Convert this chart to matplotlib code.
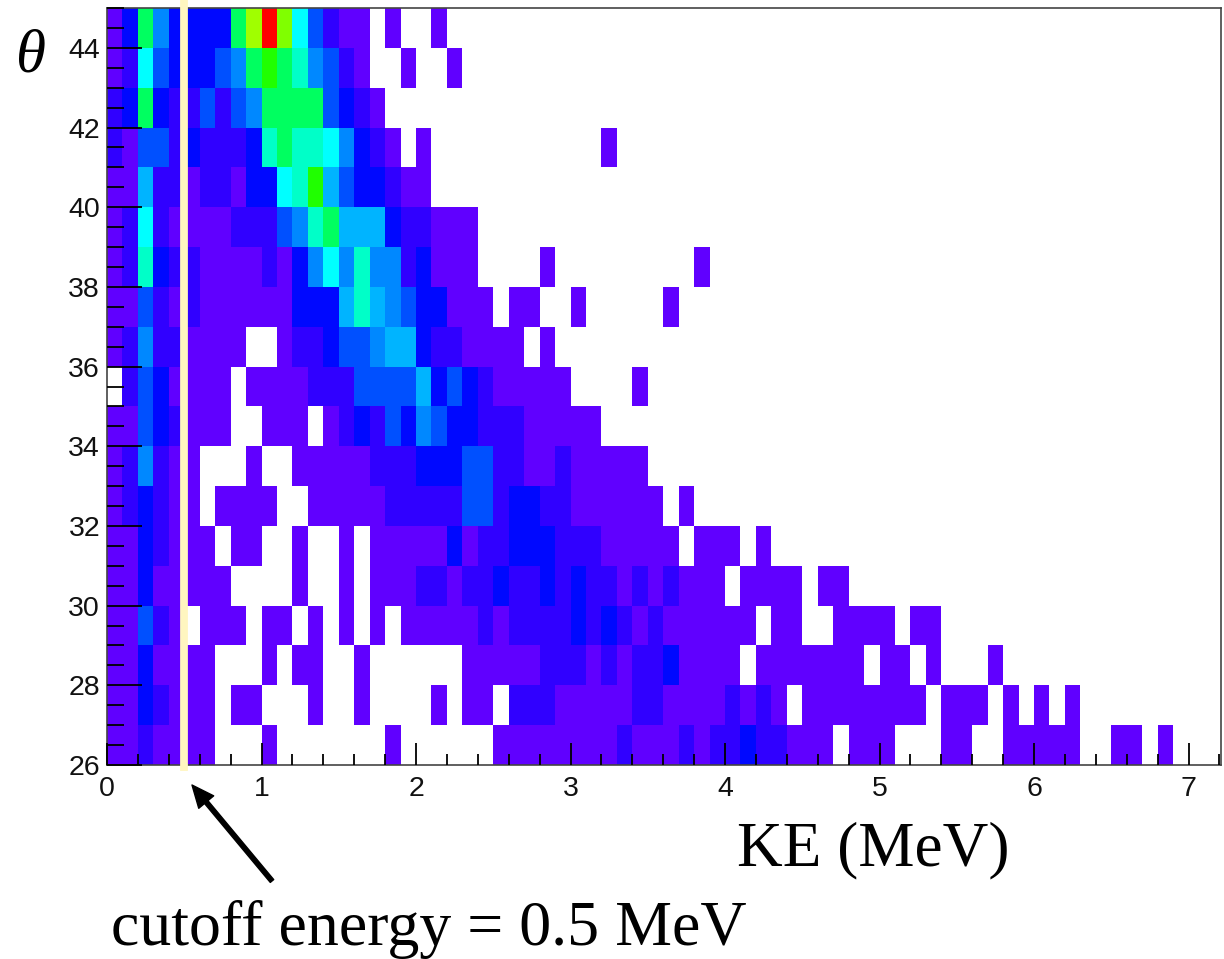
import numpy as np
import matplotlib
matplotlib.use("Agg")
import matplotlib.pyplot as plt
from matplotlib.colors import ListedColormap, BoundaryNorm

# colour level of every 0.1 MeV bin, row by row (0 = empty bin)
row_26 = [1,1,2,1,1,1,1,0,0,0,1,0,0,0,0,0,0,0,1,0,0,0,0,0,0,1,1,1,1,1,1,1,1,2,1,1,1,2,1,2,2,3,2,2,1,1,1,0,1,1,1,0,0,0,1,1,0,0,1,1,1,1,1,0,0,1,1,0,1]
row_27 = [1,1,3,2,1,1,1,0,1,1,0,0,0,1,0,0,1,0,0,0,0,1,0,1,1,0,2,2,2,1,1,1,1,1,2,2,1,1,1,1,2,1,2,1,0,1,1,1,1,1,1,1,1,0,1,1,1,0,1,0,1,0,1]
row_28 = [1,1,3,1,1,1,1,0,0,0,1,0,1,1,0,0,1,0,0,0,0,0,0,1,1,1,1,1,2,2,2,1,2,1,2,2,3,1,1,1,1,0,1,1,1,1,1,1,1,0,1,1,0,1,0,0,0,1]
row_29 = [1,1,4,2,1,0,1,1,1,0,1,1,0,1,0,1,0,1,0,1,1,1,1,1,2,1,2,2,2,2,3,2,3,2,1,2,1,1,1,1,1,1,0,1,1,0,0,1,1,1,1,0,1,1]
row_30 = [1,1,3,1,1,1,1,1,0,0,0,0,1,0,0,1,0,1,1,1,2,2,1,2,2,3,2,2,3,2,3,2,2,1,2,1,2,1,1,1,0,1,1,1,1,0,1,1]
row_31 = [1,1,3,2,1,1,1,0,1,1,0,0,1,0,0,1,0,1,1,1,1,1,3,1,2,2,3,3,3,2,2,2,1,1,1,1,1,0,1,1,1,0,1]
row_32 = [1,2,3,2,1,1,0,1,1,1,1,0,0,1,1,1,1,1,2,2,2,2,2,4,4,2,3,3,2,2,1,1,1,1,1,1,0,1]
row_33 = [1,2,5,2,1,1,0,0,0,1,0,0,1,1,1,1,1,2,2,2,3,3,3,4,4,2,2,1,1,2,1,1,1,1,1]
row_34 = [1,1,4,3,2,1,1,1,0,0,1,1,1,0,1,2,3,2,4,3,5,4,3,3,2,2,2,1,1,1,1,1]
row_35 = [0,2,4,3,1,1,1,1,0,1,1,1,1,2,2,2,4,4,4,4,6,3,4,3,2,1,1,1,1,1,0,0,0,0,1]
row_36 = [1,2,5,2,2,1,1,1,1,0,0,1,2,2,3,4,4,5,6,6,3,2,2,1,1,1,1,0,1]
row_37 = [1,1,4,2,1,2,1,1,1,1,1,1,3,3,3,6,8,6,5,4,3,3,1,1,1,0,1,1,0,0,1,0,0,0,0,0,1]
row_38 = [1,2,8,3,2,2,1,1,1,1,2,1,3,5,7,5,8,5,5,2,3,1,1,1,0,0,0,0,1,0,0,0,0,0,0,0,0,0,1]
row_39 = [1,2,7,2,1,1,1,1,2,2,2,4,5,8,9,6,6,6,3,2,2,1,1,1]
row_40 = [1,1,6,2,2,1,2,2,1,3,3,7,8,10,6,4,3,3,2,1,1]
row_41 = [2,1,4,4,2,3,2,2,2,3,8,9,8,8,7,5,3,2,1,0,1,0,0,0,0,0,0,0,0,0,0,0,1]
row_42 = [2,3,9,3,2,2,4,2,4,5,9,9,9,9,4,3,2,1]
row_43 = [1,2,7,4,3,3,3,4,5,9,10,9,8,5,4,2,1,0,0,1,0,0,1]
row_44 = [1,3,9,5,3,3,3,3,9,12,13,11,7,4,2,1,1,0,1,0,0,1]

level_colors = ["#6000ff", "#3000ff", "#0008ff", "#0050ff", "#0088ff", "#00b4ff",
                "#00ffff", "#00ffc8", "#00ff60", "#20ff00", "#80ff00", "#a0ff00", "#ff0000"]

n_bins = 72
ke_top = 7.2
ke_max = 7.21
theta_min = 26
theta_max = 45
cutoff = 0.5

rows = [row_26, row_27, row_28, row_29, row_30, row_31, row_32, row_33, row_34, row_35,
        row_36, row_37, row_38, row_39, row_40, row_41, row_42, row_43, row_44]
z = np.zeros((len(rows), n_bins))
for i, r in enumerate(rows):
    z[i, :len(r)] = r
z = np.ma.masked_equal(z, 0)

x_edges = np.linspace(0, ke_top, n_bins + 1)
y_edges = np.arange(theta_min, theta_max + 1)

W, H = 1224, 959
fig = plt.figure(figsize=(W / 100, H / 100), dpi=100)
ax = fig.add_axes([107 / W, 1 - 765 / H, 1114 / W, 757 / H])

cmap = ListedColormap(level_colors)
norm = BoundaryNorm(np.arange(0.5, len(level_colors) + 1), cmap.N)
ax.pcolormesh(x_edges, y_edges, z, cmap=cmap, norm=norm, zorder=1)

# cutoff line sticks out a little over the frame
ax.axvline(cutoff, ymin=-0.003, ymax=1.01, color="#fff6c0", lw=5.6, clip_on=False, zorder=3)

ax.set_xlim(0, ke_max)
ax.set_ylim(theta_min, theta_max)

ax.set_xticks(np.arange(0, 8))
ax.set_xticks(np.arange(0, 7.3, 0.2), minor=True)
ax.set_yticks(np.arange(26, 46, 2))
ax.set_yticks(np.arange(26, 45.1, 0.5), minor=True)

ax.tick_params(axis="x", which="major", direction="in", length=16, width=1.3, color="black", pad=8,
               labelsize=20.5, labelcolor="#111111", zorder=5)
ax.tick_params(axis="x", which="minor", direction="in", length=8, width=1.3, color="black", zorder=5)
ax.tick_params(axis="y", which="major", direction="in", length=25, width=1.3, color="black", pad=5,
               labelsize=20.5, labelcolor="#111111", zorder=5)
ax.tick_params(axis="y", which="minor", direction="in", length=12.5, width=1.3, color="black", zorder=5)

for lab in ax.get_xticklabels() + ax.get_yticklabels():
    lab.set_fontfamily("Liberation Sans")
for s in ax.spines.values():
    s.set_color("#444444")
    s.set_linewidth(1.2)
ax.set_axisbelow(False)

serif = "Liberation Serif"
fig.text(873 / W, 1 - 865 / H, "KE (MeV)", family=serif, fontsize=45.5, ha="center", va="baseline")
fig.text(429 / W, 1 - 945 / H, "cutoff energy = 0.5 MeV", family=serif, fontsize=46, ha="center", va="baseline")
fig.text(30 / W, 1 - 72 / H, "\u03b8", family=serif, style="italic", fontsize=44, ha="center", va="baseline")

ax.annotate("", xy=(192, H - 785), xytext=(272, H - 881), xycoords="figure pixels", textcoords="figure pixels",
            arrowprops=dict(width=3.2, headwidth=14, headlength=16, shrink=0, color="black"),
            annotation_clip=False)

fig.savefig("out.png", dpi=100)
